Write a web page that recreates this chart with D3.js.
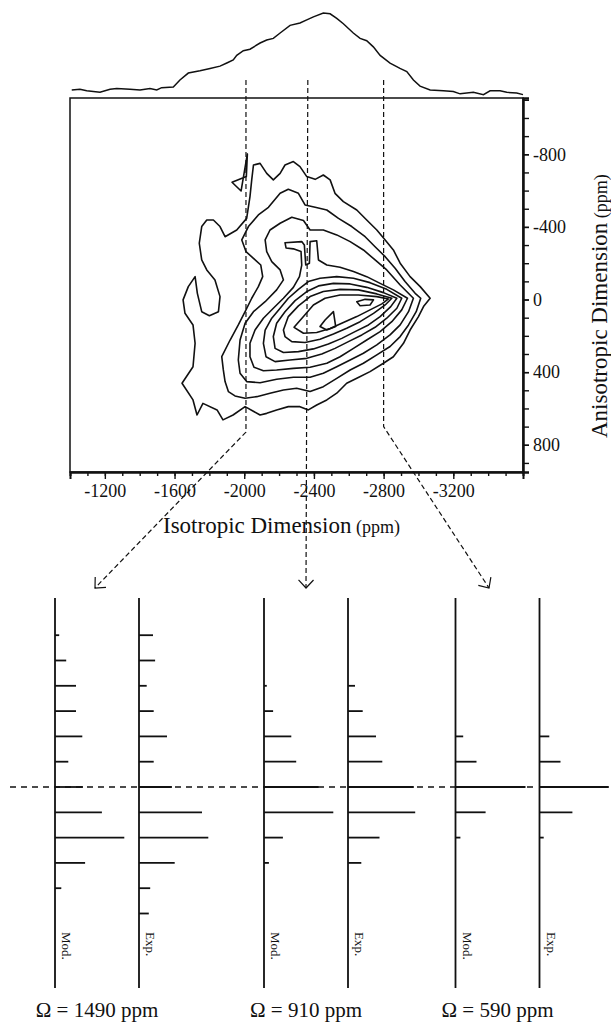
<!DOCTYPE html>
<html lang="en">
<head>
<meta charset="UTF-8">
<title>Isotropic / anisotropic 2D spectrum</title>
<script src="https://cdnjs.cloudflare.com/ajax/libs/d3/7.8.5/d3.min.js"></script>
<style>
  body { margin: 0; background: #fff; }
  text { font-family: "Liberation Serif", "Times New Roman", serif; fill: #111; }
</style>
</head>
<body>
<div id="chart"></div>
<script>
// isotropic projection on top (ppm, relative intensity)
const projIso = [-1010, -1057, -1096, -1172, -1230, -1268, -1344, -1402, -1459, -1498, -1526, -1593, -1631, -1679,
  -1746, -1804, -1861, -1900, -1937, -1957, -1995, -2033, -2091, -2129, -2167, -2206, -2263, -2320, -2359, -2397,
  -2454, -2493, -2531, -2569, -2626, -2665, -2703, -2741, -2780, -2837, -2894, -2933, -2971, -3009, -3067, -3143,
  -3200, -3239, -3315, -3373, -3411, -3468, -3507, -3564, -3600];
const projInt = [0, 1, -1, -3, 1, 2, 1, 0, 2, 0, 3, 4, 13, 22,
  25, 28, 31, 35, 39, 45, 51, 53, 61, 65, 67, 74, 84, 87, 91, 95,
  100, 99, 93, 86, 74, 67, 64, 56, 45, 35, 28, 24, 13, 5, 0, -1,
  -2, -5, -3, -6, -1, -1, -3, -4, -6];

const isoMajor = [-1200, -1600, -2000, -2400, -2800, -3200];
const isoMinor = d3.range(-1100, -3501, -100);
const anisoMajor = [-800, -400, 0, 400, 800];
const anisoMinor = d3.range(-1100, 901, 100);

// slices taken through the 2D map
const cutIso = [-2010, -2365, -2800];
const cutBend = [730, null, 700];

// contour lines, [isotropic ppm, anisotropic ppm], outer to inner
const contourSpike = [[-1930, -646], [-1982, -598], [-2018, -802], [-2012, -677]];
const contour1 = [[-2053, -741], [-2091, -750], [-2129, -695], [-2167, -659], [-2206, -695], [-2234, -741],
  [-2282, -760], [-2320, -732], [-2359, -677], [-2407, -662], [-2454, -686], [-2493, -659], [-2521, -585],
  [-2569, -539], [-2646, -493], [-2703, -438], [-2761, -383], [-2809, -328], [-2856, -273], [-2895, -200],
  [-2952, -126], [-3010, -71], [-3067, -7], [-3029, 39], [-3000, 94], [-2952, 168], [-2914, 241], [-2856, 315],
  [-2799, 351], [-2722, 397], [-2646, 434], [-2588, 461], [-2531, 516], [-2474, 553], [-2416, 581], [-2368, 608],
  [-2320, 590], [-2253, 590], [-2186, 608], [-2129, 627], [-2091, 636], [-2005, 590], [-1936, 636], [-1878, 663],
  [-1844, 608], [-1763, 572], [-1729, 636], [-1706, 553], [-1643, 461], [-1706, 370], [-1718, 241], [-1706, 140],
  [-1660, 76], [-1649, 2], [-1679, -71], [-1718, -126], [-1731, -34], [-1756, 67], [-1800, 89], [-1852, 67],
  [-1861, -16], [-1832, -108], [-1785, -163], [-1756, -218], [-1742, -310], [-1756, -402], [-1785, -438],
  [-1823, -438], [-1861, -402], [-1890, -346], [-1957, -383], [-2014, -447], [-2033, -567], [-2043, -659]];
const contour2 = [[-1871, 315], [-1919, 223], [-1966, 140], [-2005, 67], [-2043, -7], [-2081, -71], [-2106, -126],
  [-2095, -190], [-2053, -227], [-2010, -264], [-1986, -328], [-2024, -402], [-2081, -466], [-2139, -508],
  [-2206, -585], [-2253, -607], [-2311, -585], [-2349, -521], [-2407, -508], [-2474, -493], [-2541, -447],
  [-2617, -402], [-2694, -346], [-2751, -291], [-2809, -236], [-2866, -172], [-2923, -99], [-2981, -34],
  [-3013, -7], [-2987, 67], [-2943, 140], [-2895, 204], [-2837, 259], [-2761, 305], [-2684, 351], [-2608, 388],
  [-2531, 434], [-2454, 480], [-2378, 507], [-2301, 489], [-2225, 498], [-2148, 516], [-2072, 535], [-2005, 544],
  [-1947, 531], [-1909, 507], [-1890, 452], [-1880, 388]];
const contour3 = [[-1966, 333], [-1976, 223], [-2005, 131], [-2053, 67], [-2120, 12], [-2186, -53], [-2225, -108],
  [-2206, -163], [-2158, -209], [-2129, -264], [-2120, -328], [-2148, -383], [-2206, -420], [-2273, -453],
  [-2340, -435], [-2378, -383], [-2454, -383], [-2531, -356], [-2608, -319], [-2684, -273], [-2751, -218],
  [-2818, -163], [-2895, -80], [-2971, -7], [-2943, 67], [-2895, 140], [-2837, 195], [-2761, 250], [-2684, 296],
  [-2608, 333], [-2531, 370], [-2454, 406], [-2378, 428], [-2282, 428], [-2186, 439], [-2091, 458], [-2014, 452],
  [-1976, 406]];
const contour4 = [[-2033, 315], [-2033, 241], [-2062, 168], [-2110, 103], [-2167, 48], [-2225, -7], [-2282, -67],
  [-2317, -126], [-2330, -190], [-2326, -264], [-2282, -279], [-2240, -284], [-2234, -313], [-2330, -319],
  [-2345, -301], [-2353, -190], [-2374, -200], [-2378, -319], [-2416, -324], [-2426, -218], [-2474, -190],
  [-2550, -178], [-2627, -154], [-2703, -126], [-2780, -89], [-2856, -53], [-2937, -7], [-2904, 57], [-2847, 122],
  [-2780, 177], [-2703, 223], [-2627, 269], [-2550, 315], [-2474, 351], [-2378, 373], [-2282, 379], [-2186, 388],
  [-2110, 392], [-2056, 373]];
const contour5 = [[-2110, 241], [-2120, 168], [-2158, 103], [-2206, 48], [-2253, -7], [-2311, -56], [-2368, -99],
  [-2435, -117], [-2531, -126], [-2627, -117], [-2722, -93], [-2818, -56], [-2904, -7], [-2876, 48], [-2818, 103],
  [-2751, 153], [-2675, 195], [-2598, 232], [-2521, 269], [-2445, 300], [-2359, 324], [-2263, 333], [-2177, 342],
  [-2125, 315]];
const contour6 = [[-2167, 204], [-2186, 131], [-2234, 67], [-2292, 6], [-2359, -44], [-2426, -75], [-2512, -89],
  [-2608, -86], [-2703, -67], [-2799, -38], [-2876, -7], [-2841, 39], [-2780, 94], [-2713, 140], [-2636, 177],
  [-2560, 214], [-2483, 245], [-2397, 272], [-2311, 287], [-2225, 292], [-2177, 269]];
const contour7 = [[-2225, 168], [-2253, 94], [-2311, 35], [-2378, -16], [-2454, -44], [-2550, -56], [-2655, -53],
  [-2761, -31], [-2847, -7], [-2809, 30], [-2742, 76], [-2665, 122], [-2588, 158], [-2512, 190], [-2435, 219],
  [-2349, 237], [-2273, 232], [-2234, 204]];
const contour8 = [[-2286, 153], [-2340, 94], [-2397, 30], [-2464, -7], [-2550, -25], [-2655, -25], [-2761, -16],
  [-2828, -3], [-2790, 24], [-2722, 57], [-2646, 94], [-2569, 127], [-2493, 160], [-2416, 182], [-2340, 186]];
const contour9a = [[-2435, 149], [-2464, 113], [-2512, 67], [-2525, 149], [-2474, 168]];
const contour9b = [[-2646, 12], [-2694, -1], [-2742, 2], [-2722, 30], [-2665, 34]];

// spinning sideband intensities (sideband order, relative height)
const order1490 = [-6, -5, -4, -3, -2, -1, 0, 1, 2, 3, 4, 5];
const mod1490 = [6, 16, 30, 30, 39, 19, 40, 67, 99, 43, 9, 0];
const exp1490 = [20, 23, 11, 21, 40, 21, 47, 90, 99, 51, 16, 14];
const order910 = [-4, -3, -2, -1, 0, 1, 2, 3];
const mod910 = [4, 13, 39, 46, 78, 99, 27, 7];
const exp910 = [10, 21, 40, 49, 94, 96, 45, 19];
const order590 = [-2, -1, 0, 1, 2];
const mod590 = [11, 30, 100, 43, 7];
const exp590 = [14, 30, 99, 47, 6];
const omegaLabels = ["Ω = 1490 ppm", "Ω = 910 ppm", "Ω = 590 ppm"];

const W = 611, H = 1024;
const ink = "#111";

const svg = d3.select("#chart").append("svg")
  .attr("width", W).attr("height", H);

const x = d3.scaleLinear().domain([-1000, -3600]).range([70, 523]);
const y = d3.scaleLinear().domain([-1110, 950]).range([98, 472]);
const py = d3.scaleLinear().domain([0, 100]).range([90, 13]);

// top projection
svg.append("path")
  .datum(projIso.map((d, i) => [d, projInt[i]]))
  .attr("fill", "none").attr("stroke", ink).attr("stroke-width", 1.5)
  .attr("d", d3.line().x(d => x(d[0])).y(d => py(d[1])));

// frame
svg.append("rect")
  .attr("x", x(-1000)).attr("y", y(-1110))
  .attr("width", x(-3600) - x(-1000)).attr("height", y(950) - y(-1110))
  .attr("fill", "none").attr("stroke", ink).attr("stroke-width", 1.5);

// contours
const contourLine = d3.line().x(d => x(d[0])).y(d => y(d[1])).curve(d3.curveLinearClosed);
const contours = [contourSpike, contour1, contour2, contour3, contour4, contour5, contour6, contour7, contour8,
  contour9a, contour9b];
svg.append("g").selectAll("path").data(contours).join("path")
  .attr("d", contourLine)
  .attr("fill", "none").attr("stroke", ink).attr("stroke-width", 1.6).attr("stroke-linejoin", "round");

// axes
const axisFont = g => g.selectAll("text")
  .style("font-family", '"Liberation Serif", "Times New Roman", serif')
  .style("font-size", "18px").attr("fill", ink);

const xMinor = svg.append("g").attr("transform", `translate(0,${y(950)})`)
  .call(d3.axisBottom(x).tickValues(isoMinor).tickSize(4).tickFormat(""));
const xMajor = svg.append("g").attr("transform", `translate(0,${y(950)})`)
  .call(d3.axisBottom(x).tickValues(isoMajor).tickSize(7).tickPadding(5).tickFormat(d => String(d)))
  .call(axisFont);
const yMinor = svg.append("g").attr("transform", `translate(${x(-3600)},0)`)
  .call(d3.axisRight(y).tickValues(anisoMinor).tickSize(6).tickFormat(""));
const yMajor = svg.append("g").attr("transform", `translate(${x(-3600)},0)`)
  .call(d3.axisRight(y).tickValues(anisoMajor).tickSize(6).tickPadding(4).tickFormat(d => String(d)))
  .call(axisFont);
[xMinor, xMajor, yMinor, yMajor].forEach(g => {
  g.selectAll("line").attr("stroke", ink).attr("stroke-width", 1.4);
  g.select(".domain").attr("stroke", ink).attr("stroke-width", 2);
});

// axis titles
const xt = svg.append("text").attr("x", 163).attr("y", 533).style("font-size", "23px");
xt.append("tspan").text("Isotropic Dimension");
xt.append("tspan").style("font-size", "18px").text(" (ppm)");

const yt = svg.append("text").attr("transform", "translate(607,438) rotate(-90)").style("font-size", "23px");
yt.append("tspan").text("Anisotropic Dimension");
yt.append("tspan").style("font-size", "18px").text(" (ppm)");

// dashed slice markers with arrows to the sideband panels
const arrowTips = [[95, 588], [306, 588], [489, 588]];
const cutTop = 80;
cutIso.forEach((c, i) => {
  const pts = [[x(c), cutTop]];
  if (cutBend[i] !== null) pts.push([x(c), y(cutBend[i])]);
  pts.push(arrowTips[i]);
  svg.append("path").attr("d", d3.line()(pts))
    .attr("fill", "none").attr("stroke", ink).attr("stroke-width", 1.2).attr("stroke-dasharray", "5,3");
  const a = pts[pts.length - 2], b = pts[pts.length - 1];
  const ang = Math.atan2(a[1] - b[1], a[0] - b[0]);
  const head = [-0.75, 0.75].map(s => [b[0] + 11 * Math.cos(ang + s), b[1] + 11 * Math.sin(ang + s)]);
  svg.append("path").attr("d", d3.line()([head[0], b, head[1]]))
    .attr("fill", "none").attr("stroke", ink).attr("stroke-width", 1.2);
});

// sideband panels
const sy = d3.scaleLinear().domain([-6, 6]).range([787 - 6 * 25.3, 787 + 6 * 25.3]);
const sx = d3.scaleLinear().domain([0, 100]).range([0, 70]);
const panelTop = 598, panelBottom = 988;
const pairCenters = [97, 306, 497.5];
const pairHalf = 42;

svg.append("line")
  .attr("x1", 10).attr("x2", 537).attr("y1", sy(0)).attr("y2", sy(0))
  .attr("stroke", ink).attr("stroke-width", 1.5).attr("stroke-dasharray", "6,5");

const panels = [
  { pair: 0, side: -1, label: "Mod.", order: order1490, vals: mod1490 },
  { pair: 0, side: 1, label: "Exp.", order: order1490, vals: exp1490 },
  { pair: 1, side: -1, label: "Mod.", order: order910, vals: mod910 },
  { pair: 1, side: 1, label: "Exp.", order: order910, vals: exp910 },
  { pair: 2, side: -1, label: "Mod.", order: order590, vals: mod590 },
  { pair: 2, side: 1, label: "Exp.", order: order590, vals: exp590 }
];

panels.forEach(p => {
  const bx = pairCenters[p.pair] + p.side * pairHalf;
  const g = svg.append("g").attr("transform", `translate(${bx},0)`);
  g.append("line").attr("x1", 0).attr("x2", 0).attr("y1", panelTop).attr("y2", panelBottom)
    .attr("stroke", ink).attr("stroke-width", 1.8);
  g.selectAll("line.stick").data(p.order.map((k, i) => ({ k, v: p.vals[i] })).filter(d => d.v > 0))
    .join("line").attr("class", "stick")
    .attr("x1", 0).attr("x2", d => sx(d.v))
    .attr("y1", d => sy(d.k)).attr("y2", d => sy(d.k))
    .attr("stroke", ink).attr("stroke-width", 1.8);
  g.append("text").attr("transform", "translate(7,932) rotate(90)")
    .style("font-size", "13px").text(p.label);
});

svg.selectAll("text.omega").data(omegaLabels).join("text").attr("class", "omega")
  .attr("x", (d, i) => pairCenters[i]).attr("y", 1017)
  .attr("text-anchor", "middle").style("font-size", "21px").text(d => d);
</script>
</body>
</html>
